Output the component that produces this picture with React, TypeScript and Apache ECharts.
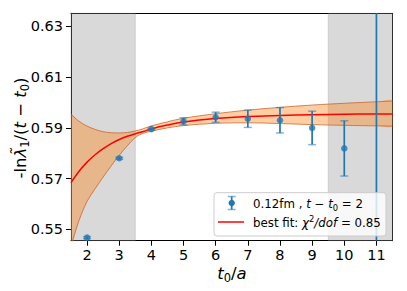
import React, { useEffect, useRef } from "react";
import * as echarts from "echarts";

const tValues = [2, 3, 4, 5, 6, 7, 8, 9, 10, 11];
const effValues = [0.5467, 0.578, 0.5895, 0.5926, 0.5942, 0.5936, 0.593, 0.59, 0.5819, 0.51];
const effErrors = [0.0004, 0.0004, 0.0003, 0.0014, 0.002, 0.0034, 0.005, 0.0066, 0.0109, 0.16];

const fitT = [1.5, 1.75, 2, 2.25, 2.5, 2.75, 3, 3.25, 3.5, 3.75, 4, 4.5, 5, 6, 7, 8, 9, 10, 11, 11.5];
const fitCenter = [0.5684, 0.5729, 0.5765, 0.5794, 0.5818, 0.5838, 0.5854, 0.5867, 0.5877, 0.5886, 0.5896, 0.5911, 0.5923, 0.5937, 0.5945, 0.5949, 0.5952, 0.5954, 0.5955, 0.5955];
const fitUpper = [0.5953, 0.5926, 0.5907, 0.5894, 0.5885, 0.5881, 0.588, 0.5882, 0.5888, 0.5897, 0.5908, 0.5924, 0.5938, 0.5956, 0.597, 0.5981, 0.599, 0.5997, 0.6003, 0.6006];
const fitLower = [0.5435, 0.5535, 0.561, 0.566, 0.5706, 0.575, 0.5792, 0.5829, 0.5862, 0.5879, 0.5887, 0.59, 0.5909, 0.5918, 0.592, 0.5917, 0.5913, 0.591, 0.5908, 0.5907];

const excludedRanges = [
  [1.5, 3.5],
  [9.5, 11.5],
];

const xTicks = [2, 3, 4, 5, 6, 7, 8, 9, 10, 11];
const yTicks = [0.55, 0.57, 0.59, 0.61, 0.63];
const X_MIN = 1.5;
const X_MAX = 11.5;
const Y_MIN = 0.5455;
const Y_MAX = 0.6352;

const FONT = "DejaVu Sans";
const BLUE = "#1f77b4";
const EDGE = "rgba(196,98,40,0.75)";
const SMOOTH = 0.35;

export default function App() {
  const ref = useRef<HTMLDivElement>(null);

  useEffect(() => {
    if (!ref.current) return;
    const chart = echarts.init(ref.current, null, { renderer: "svg" });

    const base = { fontFamily: FONT, color: "#000" };
    const legRich = {
      n: { ...base, fontSize: 11.8, lineHeight: 16 },
      i: { ...base, fontSize: 11.8, lineHeight: 16, fontStyle: "italic" },
      sub: { ...base, fontSize: 8.4, lineHeight: 9, verticalAlign: "bottom" },
      sup: { ...base, fontSize: 8.4, lineHeight: 6, verticalAlign: "top", fontStyle: "normal" },
    };
    const titleRich = {
      n: { ...base, fontSize: 16.5, lineHeight: 22 },
      i: { ...base, fontSize: 16.5, lineHeight: 22, fontStyle: "italic" },
      sub: { ...base, fontSize: 11.5, lineHeight: 12, verticalAlign: "bottom" },
    };

    const bandData = fitT.map((t, i) => [t, fitLower[i], fitUpper[i]]);

    const option: any = {
      animation: false,
      backgroundColor: "#fff",
      textStyle: { fontFamily: FONT },
      grid: { left: 71, right: 14.5, top: 13.3, bottom: 50.3, containLabel: false },
      xAxis: [
        {
          type: "value",
          min: X_MIN,
          max: X_MAX,
          position: "bottom",
          axisLine: { show: true, lineStyle: { color: "#000", width: 1 } },
          axisTick: { show: true, customValues: xTicks, length: 5, lineStyle: { color: "#000", width: 1 } },
          axisLabel: { customValues: xTicks, fontSize: 14.5, color: "#000", fontFamily: FONT, margin: 7 },
          splitLine: { show: false },
        },
        {
          type: "value",
          min: X_MIN,
          max: X_MAX,
          position: "top",
          axisLine: { show: true, lineStyle: { color: "#000", width: 1 } },
          axisTick: { show: false },
          axisLabel: { show: false },
          splitLine: { show: false },
        },
      ],
      yAxis: [
        {
          type: "value",
          min: Y_MIN,
          max: Y_MAX,
          position: "left",
          axisLine: { show: true, lineStyle: { color: "#000", width: 1 } },
          axisTick: { show: true, customValues: yTicks, length: 5, lineStyle: { color: "#000", width: 1 } },
          axisLabel: {
            customValues: yTicks,
            fontSize: 14.5,
            color: "#000",
            fontFamily: FONT,
            margin: 8,
            formatter: (v: number) => v.toFixed(2),
          },
          splitLine: { show: false },
        },
        {
          type: "value",
          min: Y_MIN,
          max: Y_MAX,
          position: "right",
          axisLine: { show: true, lineStyle: { color: "#000", width: 1 } },
          axisTick: { show: false },
          axisLabel: { show: false },
          splitLine: { show: false },
        },
      ],
      series: [
        {
          type: "custom",
          name: "excluded",
          z: 1,
          silent: true,
          data: excludedRanges,
          encode: { x: [0, 1] },
          renderItem: (params: any, api: any) => {
            const cs = params.coordSys;
            const a = api.coord([api.value(0), Y_MIN]);
            const b = api.coord([api.value(1), Y_MIN]);
            return {
              type: "rect",
              shape: { x: a[0], y: cs.y, width: b[0] - a[0], height: cs.height },
              style: { fill: "rgba(128,128,128,0.3)", stroke: "rgba(128,128,128,0.25)", lineWidth: 1 },
            };
          },
        },
        {
          type: "custom",
          name: "bandFill",
          z: 2,
          silent: true,
          data: [0],
          encode: { x: 0 },
          renderItem: (params: any, api: any) => {
            const cs = params.coordSys;
            const upperPts = bandData.map((d) => api.coord([d[0], d[2]]));
            const lowerPts = bandData.map((d) => api.coord([d[0], d[1]])).reverse();
            return {
              type: "polygon",
              shape: { points: upperPts.concat(lowerPts), smooth: SMOOTH, smoothConstraint: false },
              style: { fill: "rgba(255,127,14,0.38)", stroke: "none" },
              clipPath: { type: "rect", shape: { x: cs.x, y: cs.y, width: cs.width, height: cs.height } },
            };
          },
        },
        {
          type: "line",
          name: "bandLower",
          z: 3,
          smooth: SMOOTH,
          showSymbol: false,
          silent: true,
          data: bandData.map((d) => [d[0], d[1]]),
          lineStyle: { color: EDGE, width: 1 },
        },
        {
          type: "line",
          name: "bandUpper",
          z: 3,
          smooth: SMOOTH,
          showSymbol: false,
          silent: true,
          data: bandData.map((d) => [d[0], d[2]]),
          lineStyle: { color: EDGE, width: 1 },
        },
        {
          type: "line",
          name: "fit",
          z: 4,
          smooth: SMOOTH,
          showSymbol: false,
          silent: true,
          data: fitT.map((t, i) => [t, fitCenter[i]]),
          lineStyle: { color: "#ff0000", width: 1.5 },
        },
        {
          type: "custom",
          name: "errors",
          z: 5,
          silent: true,
          data: tValues.map((t, i) => [t, effValues[i] - effErrors[i], effValues[i] + effErrors[i]]),
          encode: { x: 0, y: [1, 2] },
          renderItem: (params: any, api: any) => {
            const cs = params.coordSys;
            const lo = api.coord([api.value(0), api.value(1)]);
            const hi = api.coord([api.value(0), api.value(2)]);
            const top = cs.y;
            const bot = cs.y + cs.height;
            const x = lo[0];
            const y1 = Math.min(Math.max(hi[1], top), bot);
            const y2 = Math.min(Math.max(lo[1], top), bot);
            const children: any[] = [
              { type: "line", shape: { x1: x, y1, x2: x, y2 }, style: { stroke: BLUE, lineWidth: 1.7 } },
            ];
            const capStyle = { stroke: "rgba(31,119,180,0.55)", lineWidth: 1.5 };
            if (hi[1] >= top && hi[1] <= bot)
              children.push({ type: "line", shape: { x1: x - 4, y1: hi[1], x2: x + 4, y2: hi[1] }, style: capStyle });
            if (lo[1] >= top && lo[1] <= bot)
              children.push({ type: "line", shape: { x1: x - 4, y1: lo[1], x2: x + 4, y2: lo[1] }, style: capStyle });
            return { type: "group", children };
          },
        },
        {
          type: "scatter",
          name: "points",
          z: 6,
          clip: true,
          silent: true,
          symbol: "circle",
          symbolSize: 6.5,
          data: tValues.map((t, i) => [t, effValues[i]]),
          itemStyle: { color: BLUE },
        },
      ],
      graphic: [
        {
          type: "text",
          x: 20,
          y: 128,
          rotation: Math.PI / 2,
          style: {
            text: "{n|-ln}{i|λ̃}{sub|1}{n|/(}{i|t}{n| − }{i|t}{sub|0}{n|)}",
            rich: titleRich,
            align: "center",
            verticalAlign: "middle",
          },
        },
        {
          type: "text",
          x: 232,
          y: 273,
          style: {
            text: "{i|t}{sub|0}{n|/}{i|a}",
            rich: titleRich,
            align: "center",
            verticalAlign: "middle",
          },
        },
        {
          type: "rect",
          z: 100,
          shape: { x: 214, y: 192.7, width: 172, height: 43.3, r: 3 },
          style: { fill: "rgba(255,255,255,0.8)", stroke: "#cccccc", lineWidth: 1 },
        },
        {
          type: "line",
          z: 101,
          shape: { x1: 231.7, y1: 196.5, x2: 231.7, y2: 209.5 },
          style: { stroke: BLUE, lineWidth: 1.7 },
        },
        {
          type: "line",
          z: 101,
          shape: { x1: 227.7, y1: 196.5, x2: 235.7, y2: 196.5 },
          style: { stroke: "rgba(31,119,180,0.55)", lineWidth: 1.5 },
        },
        {
          type: "line",
          z: 101,
          shape: { x1: 227.7, y1: 209.5, x2: 235.7, y2: 209.5 },
          style: { stroke: "rgba(31,119,180,0.55)", lineWidth: 1.5 },
        },
        {
          type: "circle",
          z: 102,
          shape: { cx: 231.7, cy: 203, r: 3.2 },
          style: { fill: BLUE },
        },
        {
          type: "text",
          z: 102,
          x: 253,
          y: 203.5,
          style: {
            text: "{n|0.12fm , }{i|t}{n| − }{i|t}{sub|0}{n| = 2}",
            rich: legRich,
            align: "left",
            verticalAlign: "middle",
          },
        },
        {
          type: "line",
          z: 101,
          shape: { x1: 218, y1: 222, x2: 244, y2: 222 },
          style: { stroke: "#ff0000", lineWidth: 1.5 },
        },
        {
          type: "text",
          z: 102,
          x: 253,
          y: 222.5,
          style: {
            text: "{n|best fit: }{i|χ}{sup|2}{i|/dof}{n| = 0.85}",
            rich: legRich,
            align: "left",
            verticalAlign: "middle",
          },
        },
      ],
    };
    chart.setOption(option);
    return () => chart.dispose();
  }, []);

  return (
    <div
      ref={ref}
      style={{ position: "absolute", left: 0, top: 0, width: 407, height: 291, background: "#fff" }}
    />
  );
}
